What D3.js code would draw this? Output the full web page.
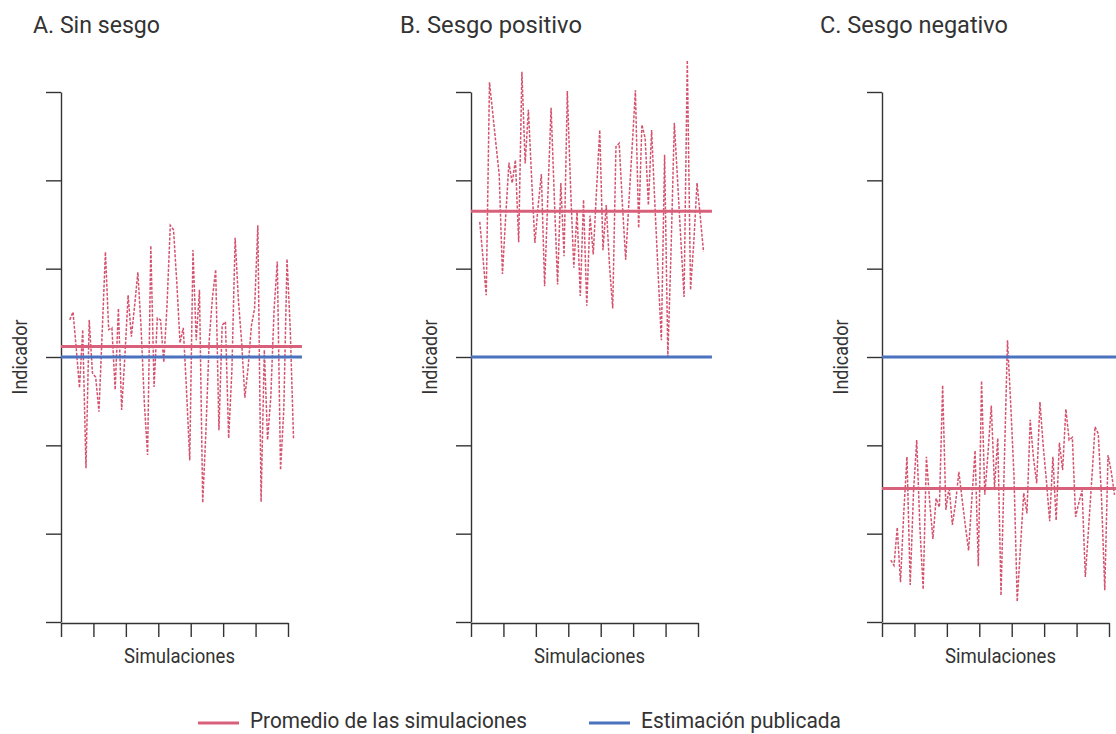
<!DOCTYPE html>
<html>
<head>
<meta charset="utf-8">
<script src="https://cdn.jsdelivr.net/npm/d3@7"></script>
<style>
  body { margin: 0; background: #fff; }
  text { font-family: Roboto, "Liberation Sans", sans-serif; fill: #333; }
</style>
</head>
<body>
<div id="vis"></div>
<script>
// Panel titles and legend labels
const titles = ['A. Sin sesgo', 'B. Sesgo positivo', 'C. Sesgo negativo'];
const legendLabels = ['Promedio de las simulaciones', 'Estimación publicada'];

// Simulated indicator values, one per simulation
const sinSesgo = [
  0.42, 0.51, 0.10, -0.35, 0.31, -1.26, 0.42, -0.18, -0.23, -0.62,
  0.28, 1.19, 0.31, 0.33, -0.37, 0.55, -0.60, 0.01, 0.70, 0.23,
  0.58, 0.96, 0.33, -0.52, -1.11, 1.26, -0.34, 0.44, 0.42, -0.06,
  0.59, 1.49, 1.44, 0.85, 0.16, 0.33, -0.37, -1.17, 1.21, 0.19,
  0.76, -1.65, -0.83, 0.19, 0.67, 0.99, -0.83, 0.36, 0.40, -0.92,
  -0.15, 1.35, 0.65, 0.17, -0.46, -0.12, 0.35, 0.55, 1.49, -1.64,
  0.08, -0.94, -0.45, 0.53, 1.08, -1.28, -0.60, 1.11, 0.31, -0.92
];
const sesgoPositivo = [
  1.53, 1.12, 0.70, 3.11, 2.76, 2.41, 2.06, 0.94, 1.59, 2.20,
  1.97, 2.23, 1.30, 3.23, 2.19, 2.80, 2.02, 1.29, 1.71, 2.07,
  0.80, 1.82, 2.82, 1.80, 0.82, 1.97, 1.14, 3.01, 1.93, 1.01,
  1.64, 0.69, 1.78, 0.58, 1.60, 1.16, 1.88, 2.57, 1.21, 1.72,
  1.04, 0.55, 2.38, 2.42, 1.72, 1.10, 1.76, 2.38, 3.02, 1.46,
  2.63, 2.48, 1.72, 2.57, 1.73, 0.95, 0.19, 2.29, 0.00, 1.22,
  2.65, 2.00, 1.33, 0.68, 3.36, 0.76, 1.30, 1.97, 1.59, 1.19
];
const sesgoNegativo = [
  -2.30, -2.36, -1.93, -2.55, -1.77, -1.13, -2.58, -1.54, -0.94, -1.94,
  -2.63, -1.13, -1.64, -2.06, -1.60, -1.70, -0.32, -1.73, -1.47, -1.90,
  -1.65, -1.30, -1.61, -1.91, -2.19, -1.61, -1.06, -2.37, -0.27, -1.56,
  -1.08, -0.55, -1.47, -0.92, -2.70, -1.23, 0.19, -0.54, -1.34, -2.77,
  -2.15, -1.54, -1.77, -0.71, -1.14, -1.43, -0.51, -1.00, -1.40, -1.86,
  -1.13, -1.85, -0.97, -1.28, -0.59, -0.94, -0.91, -1.81, -1.65, -1.51,
  -2.49, -1.94, -1.38, -0.79, -0.87, -1.60, -2.64, -1.11, -1.30, -1.56
];

// Average of the simulations and the published estimate
const promedios = [0.12, 1.65, -1.49];
const estimacion = 0;

const series = [sinSesgo, sesgoPositivo, sesgoNegativo];

const width = 1116;
const height = 734;
const pink = '#d9607a';
const pinkDash = '#d4526e';
const blue = '#4a72bf';
const axisColor = '#333';

const panelLeft = [61, 471, 882];
const titleX = [33, 400, 820];
const titleLen = [127, 182, 188];
const panelWidth = 227;
const plotTop = 92, plotBottom = 622;

const svg = d3.select('#vis')
  .append('svg')
  .attr('width', width)
  .attr('height', height);

const y = d3.scaleLinear()
  .domain([-3, 3])
  .range([plotBottom, plotTop]);

series.forEach(function(values, p) {
  const x = d3.scaleLinear()
    .domain([0, 70])
    .range([panelLeft[p], panelLeft[p] + panelWidth]);

  const g = svg.append('g');

  // axes
  g.append('g')
    .attr('transform', 'translate(' + panelLeft[p] + ',0)')
    .call(d3.axisLeft(y).ticks(7).tickSize(15).tickSizeOuter(0).tickFormat(''))
    .call(a => a.selectAll('line, path').attr('stroke', axisColor).attr('stroke-width', 1.4));

  g.append('g')
    .attr('transform', 'translate(0,' + (plotBottom + 1) + ')')
    .call(d3.axisBottom(x).tickValues(d3.range(0, 71, 10)).tickSize(14).tickSizeOuter(0).tickFormat(''))
    .call(a => a.selectAll('line, path').attr('stroke', axisColor).attr('stroke-width', 1.4));

  // dashed simulation line
  const line = d3.line()
    .x(function(d, i) { return x(i + 2.7); })
    .y(function(d) { return y(d); });

  g.append('path')
    .datum(values)
    .attr('fill', 'none')
    .attr('stroke', pinkDash)
    .attr('stroke-width', 1.5)
    .attr('stroke-dasharray', '3,1.5')
    .attr('d', line);

  // published estimate and average
  g.append('line')
    .attr('x1', x(0)).attr('x2', x(74.3))
    .attr('y1', y(estimacion)).attr('y2', y(estimacion))
    .attr('stroke', blue)
    .attr('stroke-width', 3);

  g.append('line')
    .attr('x1', x(0)).attr('x2', x(74.3))
    .attr('y1', y(promedios[p])).attr('y2', y(promedios[p]))
    .attr('stroke', pink)
    .attr('stroke-width', 3);

  // titles
  g.append('text')
    .attr('x', titleX[p])
    .attr('y', 33)
    .attr('font-size', 23)
    .attr('textLength', titleLen[p])
    .attr('lengthAdjust', 'spacingAndGlyphs')
    .text(titles[p]);

  g.append('text')
    .attr('x', (x(0) + x(70)) / 2 + 5 - 55.5)
    .attr('y', 663)
    .attr('font-size', 21)
    .attr('textLength', 111)
    .attr('lengthAdjust', 'spacingAndGlyphs')
    .text('Simulaciones');

  g.append('text')
    .attr('transform', 'translate(' + (panelLeft[p] - 34) + ',' + (y(0) + 37.5) + ') rotate(-90)')
    .attr('font-size', 21)
    .attr('textLength', 75)
    .attr('lengthAdjust', 'spacingAndGlyphs')
    .text('Indicador');
});

// legend
const legend = svg.append('g');
const legendX = [198, 589];
const legendLen = [277, 200];
const legendColors = [pink, blue];
legendLabels.forEach(function(label, i) {
  legend.append('line')
    .attr('x1', legendX[i]).attr('x2', legendX[i] + 41)
    .attr('y1', 723).attr('y2', 723)
    .attr('stroke', legendColors[i])
    .attr('stroke-width', 3);
  legend.append('text')
    .attr('x', legendX[i] + 52)
    .attr('y', 728)
    .attr('font-size', 22)
    .attr('textLength', legendLen[i])
    .attr('lengthAdjust', 'spacingAndGlyphs')
    .text(label);
});
</script>
</body>
</html>
